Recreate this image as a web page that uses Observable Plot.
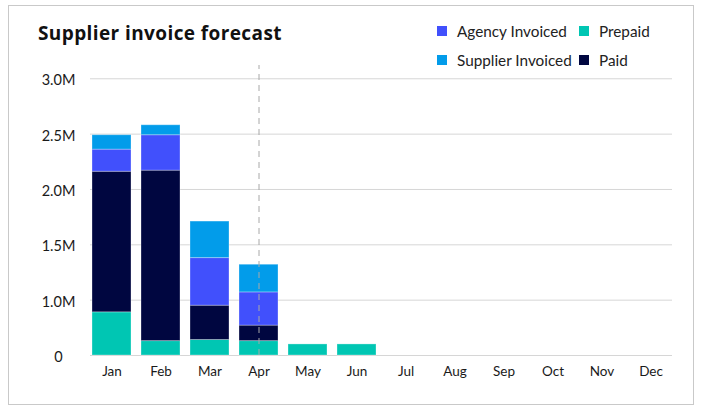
<!DOCTYPE html>
<html><head><meta charset="utf-8">
<script src="https://cdn.jsdelivr.net/npm/d3@7"></script>
<script src="https://cdn.jsdelivr.net/npm/@observablehq/plot@0.6"></script>
<style>
body{margin:0;background:#fff;font-family:Lato,sans-serif;}
#wrap{position:relative;width:707px;height:414px;overflow:hidden}
#frame{position:absolute;left:8px;top:5px;width:686px;height:400px;border:1px solid #c9c9c9;box-sizing:border-box}
#title{position:absolute;left:38px;top:20px;font:700 19px "Open Sans",sans-serif;letter-spacing:0.4px;color:#111;white-space:nowrap}
#legend{position:absolute;left:437px;top:16px;display:grid;grid-template-columns:142px auto;grid-auto-rows:29px;font-size:15.3px;color:#222}
.item{display:flex;align-items:center;white-space:nowrap}
.sw{width:10px;height:10px;margin-right:10px;flex:none}
#chart{position:absolute;left:0;top:58px}
</style></head>
<body>
<div id="wrap">
  <div id="frame"></div>
  <div id="title">Supplier invoice forecast</div>
  <div id="legend"></div>
  <div id="chart"></div>
</div>
<script>
// ---- data ----
const months = ["Jan","Feb","Mar","Apr","May","Jun","Jul","Aug","Sep","Oct","Nov","Dec"];
const series = ["Prepaid","Paid","Agency Invoiced","Supplier Invoiced"];
const prepaid          = [0.39e6, 0.13e6, 0.14e6, 0.13e6, 0.10e6, 0.10e6, 0, 0, 0, 0, 0, 0];
const paid             = [1.27e6, 1.54e6, 0.31e6, 0.14e6, 0, 0, 0, 0, 0, 0, 0, 0];
const agencyInvoiced   = [0.20e6, 0.32e6, 0.43e6, 0.30e6, 0, 0, 0, 0, 0, 0, 0, 0];
const supplierInvoiced = [0.13e6, 0.09e6, 0.33e6, 0.25e6, 0, 0, 0, 0, 0, 0, 0, 0];
const yTicks = [0, 0.5e6, 1.0e6, 1.5e6, 2.0e6, 2.5e6];
const yTickLabels = ["0", "1.0M", "1.5M", "2.0M", "2.5M", "3.0M"];
const markerMonth = "Apr";
const legendOrder = ["Agency Invoiced","Prepaid","Supplier Invoiced","Paid"];

// ---- styles ----
const colors = {"Prepaid":"#00c6b3","Paid":"#000640","Agency Invoiced":"#4150fc","Supplier Invoiced":"#029cea"};

const valuesBySeries = {"Prepaid":prepaid,"Paid":paid,"Agency Invoiced":agencyInvoiced,"Supplier Invoiced":supplierInvoiced};
const rows = [];
for (const s of series) months.forEach((m,i) => { if (valuesBySeries[s][i] > 0) rows.push({month:m, series:s, value:valuesBySeries[s][i]}); });

const labelMap = new Map(yTicks.map((t,i) => [t, yTickLabels[i]]));

const chart = Plot.plot({
  width: 707, height: 340,
  marginLeft: 90, marginRight: 35, marginTop: 7, marginBottom: 43,
  style: {fontFamily: "Lato, sans-serif", color: "#1a1a1a", background: "transparent"},
  x: {type: "band", domain: months, paddingInner: 0.2, paddingOuter: 0, label: null},
  y: {domain: [0, 2.62e6], label: null},
  color: {domain: series, range: series.map(s => colors[s])},
  marks: [
    Plot.gridY(yTicks, {stroke: "#d6d6d6", strokeOpacity: 1}),
    Plot.barY(rows, Plot.stackY({x: "month", y: "value", fill: "series", stroke: "#ffffff", strokeOpacity: 0.3, strokeWidth: 1})),
    Plot.ruleX([markerMonth], {x: d => d, y1: 0, y2: 2.62e6, stroke: "#a8a8a8", strokeDasharray: "6,5", strokeWidth: 1}),
    Plot.axisX({tickSize: 0, tickPadding: 11, fontSize: 13.5, label: null}),
    Plot.axisY(yTicks, {tickSize: 0, tickPadding: 32, textAnchor: "middle", fontSize: 14.5, dy: 2, tickFormat: d => labelMap.get(d), label: null})
  ]
});
document.getElementById("chart").appendChild(chart);

const leg = document.getElementById("legend");
for (const s of legendOrder) {
  const it = document.createElement("div"); it.className = "item";
  const sw = document.createElement("span"); sw.className = "sw"; sw.style.background = colors[s];
  const tx = document.createElement("span"); tx.textContent = s;
  it.appendChild(sw); it.appendChild(tx); leg.appendChild(it);
}
</script>
</body></html>
